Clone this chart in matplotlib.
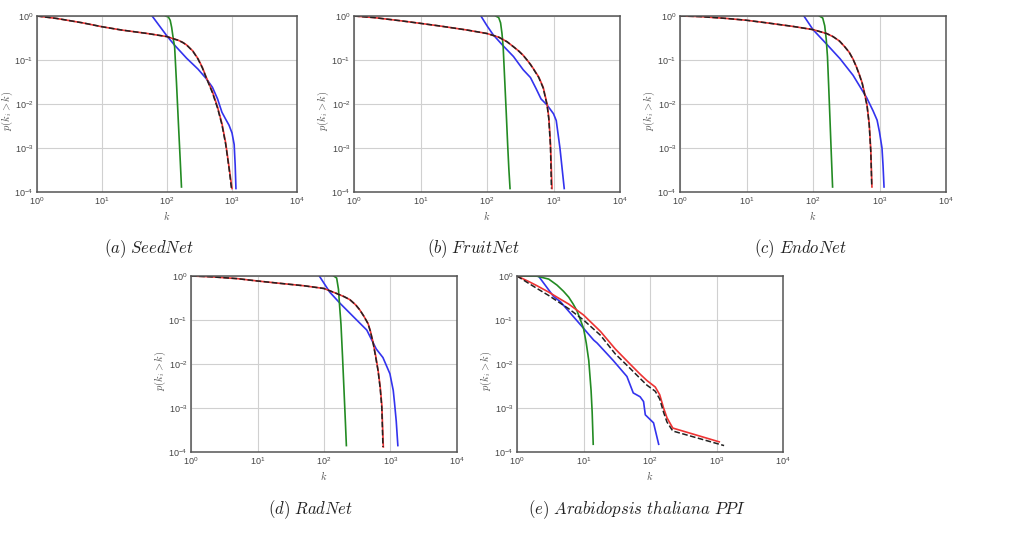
import matplotlib
matplotlib.use("Agg")
import matplotlib.pyplot as plt

plt.rcParams['mathtext.fontset'] = 'cm'
plt.rcParams['font.family'] = ['Liberation Sans', 'DejaVu Sans']

# ---- data (k, P(k_i > k)) ----
# (a) SeedNet
a_blue_k = [59, 100, 130, 200, 300, 400, 500, 600, 700, 800, 900, 1000, 1080, 1120, 1150]
a_blue_p = [1.0, 0.35, 0.22, 0.11, 0.062, 0.038, 0.024, 0.013, 0.0065, 0.0045, 0.0033, 0.0022, 0.0012, 0.0004, 0.00012]
a_green_k = [95, 105, 112, 118, 125, 131, 140, 150, 160, 167]
a_green_p = [1.0, 0.95, 0.8, 0.55, 0.3, 0.2, 0.03, 0.0035, 0.0005, 0.00013]
a_red_k = [1, 2, 5, 10, 20, 50, 100, 120, 150, 175, 200, 250, 300, 350, 400, 500, 600, 700, 800, 900, 1000]
a_red_p = [1.0, 0.88, 0.7, 0.57, 0.48, 0.4, 0.34, 0.31, 0.28, 0.25, 0.22, 0.16, 0.107, 0.068, 0.041, 0.019, 0.0085, 0.0036, 0.0013, 0.00037, 0.00012]
a_blk_k = [1, 2, 5, 10, 20, 50, 100, 120, 150, 175, 200, 250, 300, 350, 400, 500, 600, 700, 800, 900, 980]
a_blk_p = [1.0, 0.88, 0.7, 0.57, 0.48, 0.4, 0.34, 0.31, 0.28, 0.25, 0.22, 0.158, 0.105, 0.066, 0.04, 0.018, 0.008, 0.0034, 0.0012, 0.00035, 0.00012]

# (b) FruitNet
b_blue_k = [81, 100, 123, 170, 250, 350, 450, 550, 650, 800, 1000, 1100, 1250, 1450]
b_blue_p = [1.0, 0.6, 0.38, 0.22, 0.12, 0.06, 0.04, 0.022, 0.013, 0.0095, 0.006, 0.0042, 0.001, 0.00012]
b_green_k = [135, 150, 160, 168, 175, 185, 195, 205, 213, 222]
b_green_p = [1.0, 0.92, 0.7, 0.4, 0.2, 0.033, 0.006, 0.0011, 0.00034, 0.00012]
b_red_k = [1, 2, 5, 10, 20, 50, 100, 150, 200, 250, 300, 350, 400, 450, 500, 600, 700, 800, 850, 900, 950]
b_red_p = [1.0, 0.92, 0.78, 0.68, 0.59, 0.48, 0.4, 0.33, 0.26, 0.2, 0.16, 0.128, 0.1, 0.08, 0.063, 0.041, 0.024, 0.01, 0.005, 0.0013, 0.00012]
b_blk_k = [1, 2, 5, 10, 20, 50, 100, 150, 200, 250, 300, 350, 400, 450, 500, 600, 700, 800, 850, 900, 930]
b_blk_p = [1.0, 0.92, 0.78, 0.68, 0.59, 0.48, 0.4, 0.33, 0.26, 0.2, 0.16, 0.127, 0.1, 0.079, 0.062, 0.04, 0.023, 0.0095, 0.0045, 0.0011, 0.00012]

# (c) EndoNet
c_blue_k = [73, 100, 160, 255, 400, 640, 800, 920, 1000, 1090, 1130, 1170]
c_blue_p = [1.0, 0.49, 0.23, 0.107, 0.045, 0.014, 0.007, 0.0043, 0.0023, 0.001, 0.0004, 0.00013]
c_green_k = [125, 140, 150, 158, 165, 172, 180, 188, 197]
c_green_p = [1.0, 0.9, 0.6, 0.3, 0.12, 0.026, 0.0045, 0.0008, 0.00013]
c_red_k = [1, 2, 5, 10, 20, 50, 100, 160, 200, 250, 300, 350, 400, 450, 500, 550, 600, 650, 700, 740, 770]
c_red_p = [1.0, 0.97, 0.88, 0.8, 0.7, 0.58, 0.49, 0.4, 0.34, 0.27, 0.2, 0.15, 0.105, 0.07, 0.046, 0.03, 0.017, 0.0094, 0.0036, 0.0009, 0.00013]
c_blk_k = [1, 2, 5, 10, 20, 50, 100, 160, 200, 250, 300, 350, 400, 450, 500, 550, 600, 650, 700, 740, 765]
c_blk_p = [1.0, 0.97, 0.88, 0.8, 0.7, 0.58, 0.49, 0.4, 0.34, 0.27, 0.2, 0.15, 0.104, 0.069, 0.045, 0.029, 0.016, 0.009, 0.0034, 0.0008, 0.00013]

# (d) RadNet
d_blue_k = [85, 122, 174, 310, 440, 610, 770, 980, 1100, 1150, 1220, 1290]
d_blue_p = [1.0, 0.43, 0.24, 0.1, 0.059, 0.022, 0.014, 0.006, 0.0025, 0.0013, 0.0005, 0.00014]
d_green_k = [140, 155, 165, 172, 180, 190, 200, 210, 217]
d_green_p = [1.0, 0.9, 0.5, 0.2, 0.08, 0.0145, 0.0025, 0.00046, 0.00014]
d_red_k = [1, 2, 5, 10, 20, 50, 100, 155, 200, 245, 300, 345, 400, 460, 500, 550, 600, 650, 700, 740, 780]
d_red_p = [1.0, 0.96, 0.87, 0.77, 0.69, 0.6, 0.52, 0.4, 0.34, 0.29, 0.22, 0.17, 0.12, 0.083, 0.055, 0.03, 0.015, 0.0073, 0.003, 0.0012, 0.00013]
d_blk_k = [1, 2, 5, 10, 20, 50, 100, 155, 200, 245, 300, 345, 400, 460, 500, 550, 600, 650, 700, 740, 770]
d_blk_p = [1.0, 0.96, 0.87, 0.77, 0.69, 0.6, 0.52, 0.4, 0.34, 0.29, 0.22, 0.17, 0.12, 0.082, 0.054, 0.029, 0.014, 0.007, 0.0028, 0.001, 0.00013]

# (e) Arabidopsis thaliana PPI
e_blue_k = [1, 2.1, 3.56, 4.5, 9, 14.2, 16, 28, 45, 56, 71, 80, 85, 113, 135]
e_blue_p = [1.0, 1.0, 0.34, 0.26, 0.078, 0.035, 0.03, 0.012, 0.0052, 0.0022, 0.0018, 0.0014, 0.0007, 0.00046, 0.00015]
e_green_k = [1, 2, 3, 4, 5, 6, 7, 8, 9, 10, 11, 12, 13, 13.5, 14]
e_green_p = [1.0, 0.99, 0.85, 0.62, 0.45, 0.33, 0.23, 0.16, 0.1, 0.065, 0.03, 0.012, 0.0025, 0.0008, 0.00015]
e_red_k = [1, 1.5, 2, 3, 4, 6, 10, 18, 30, 50, 70, 90, 120, 140, 160, 180, 220, 1100]
e_red_p = [1.0, 0.75, 0.6, 0.43, 0.33, 0.23, 0.13, 0.055, 0.022, 0.01, 0.006, 0.0042, 0.003, 0.002, 0.001, 0.0006, 0.00035, 0.00017]
e_blk_k = [1, 1.5, 2, 3, 4, 6, 10, 18, 30, 50, 70, 90, 120, 140, 160, 180, 220, 1300]
e_blk_p = [1.0, 0.68, 0.52, 0.36, 0.27, 0.18, 0.1, 0.045, 0.017, 0.008, 0.0048, 0.0033, 0.0024, 0.0016, 0.0008, 0.00048, 0.0003, 0.00014]

captions = ['(a)\\ SeedNet', '(b)\\ FruitNet', '(c)\\ EndoNet', '(d)\\ RadNet',
            '(e)\\ Arabidopsis\\ thaliana\\ PPI']

panels = [
    (a_blue_k, a_blue_p, a_green_k, a_green_p, a_red_k, a_red_p, a_blk_k, a_blk_p),
    (b_blue_k, b_blue_p, b_green_k, b_green_p, b_red_k, b_red_p, b_blk_k, b_blk_p),
    (c_blue_k, c_blue_p, c_green_k, c_green_p, c_red_k, c_red_p, c_blk_k, c_blk_p),
    (d_blue_k, d_blue_p, d_green_k, d_green_p, d_red_k, d_red_p, d_blk_k, d_blk_p),
    (e_blue_k, e_blue_p, e_green_k, e_green_p, e_red_k, e_red_p, e_blk_k, e_blk_p),
]

W, H = 1018, 533
# axes boxes in pixels: left, top, right, bottom
boxes = [(37, 16, 297, 192), (354, 16, 620, 192), (680, 16, 946, 192),
         (191, 276, 457, 452), (517, 276, 783, 452)]
cap_y = [249, 249, 249, 510, 510]
cap_x = [149, 474, 800, 311, 637]
ylab_off = [21.5, 23, 23, 23, 23]   # px from left spine to y-label

fig = plt.figure(figsize=(W / 100, H / 100), dpi=100)

for i, (box, data) in enumerate(zip(boxes, panels)):
    l, t, r, b = box
    ax = fig.add_axes([l / W, 1 - b / H, (r - l) / W, (b - t) / H])
    bk, bp, gk, gp, rk, rp, kk, kp = data
    ax.plot(bk, bp, color='#3333ee', lw=1.2)
    ax.plot(gk, gp, color='#238b23', lw=1.2)
    ax.plot(rk, rp, color='#ee3333', lw=1.2)
    ax.plot(kk, kp, color='#222222', lw=1.1, ls='--')
    ax.set_xscale('log')
    ax.set_yscale('log')
    ax.set_xlim(1, 1e4)
    ax.set_ylim(1e-4, 1)
    ax.set_xticks([1, 10, 100, 1000, 10000])
    ax.set_yticks([1e-4, 1e-3, 1e-2, 1e-1, 1])
    ax.minorticks_off()
    ax.grid(True, color='#d0d0d0', lw=0.8)
    ax.tick_params(length=0, labelsize=6.5, labelcolor='#444444', pad=2.5)
    for s in ax.spines.values():
        s.set_color('#555555')
        s.set_linewidth(1.1)
    ax.set_xlabel('$k$', fontsize=7.5, color='#555555', labelpad=1)
    ax.set_ylabel('$p(k_i > k)$', fontsize=7.5, color='#555555')
    ax.yaxis.set_label_coords(-ylab_off[i] / (r - l), 0.46)
    fig.text(cap_x[i] / W, 1 - cap_y[i] / H, '$' + captions[i] + '$', fontsize=12,
             ha='center', va='center', color='#222222')

fig.savefig('out.png', dpi=100)
